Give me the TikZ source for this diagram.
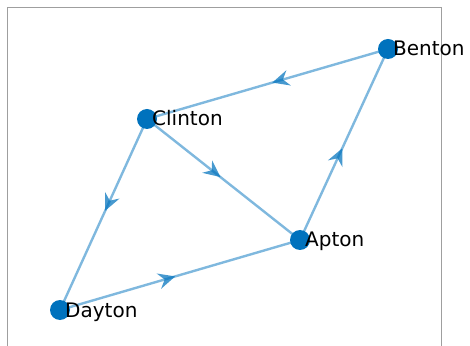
\documentclass[tikz,border=0pt]{standalone}
\usepackage{fontspec}
\setmainfont{DejaVu Sans}
\usetikzlibrary{arrows.meta,positioning,decorations.markings,backgrounds}
\definecolor{nodeblue}{RGB}{0,114,189}
\definecolor{edgeblue}{RGB}{0,114,189}
\tikzset{
	vertex/.style={circle, fill=nodeblue, minimum size=20pt, inner sep=0pt},
	vname/.style={anchor=base west, inner sep=0pt, font=\fontsize{20}{20}\selectfont},
	link/.style={draw=edgeblue, draw opacity=0.5, line width=2.4pt,
		postaction={decorate},
		decoration={markings,
			mark=at position 0.48 with {\fill[edgeblue, fill opacity=0.72] (0pt,0pt) -- (-17pt,8pt) -- (-11pt,0pt) -- (-17pt,-8pt) -- cycle;}}}
}

\begin{document}
\begin{tikzpicture}[x=1pt,y=1pt]
	\useasboundingbox (0,0) rectangle (470,345);
	% axes frame
	\draw[gray!75, line width=0.8pt] (7,-10) -- (7,338) -- (441,338) -- (441,-10);
	
	% draw vertices
	\node[vertex] (benton) at (388,296) {};
	\node[vertex] (clinton) at (147,226) {};
	\node[vertex] (apton) at (300,105) {};
	\node[vertex] (dayton) at (60,35) {};
	
	% vertex names
	\node[vname, xshift=5pt, yshift=-7pt] (bentontxt) at (benton.center) {Benton};
	\node[vname, xshift=5pt, yshift=-7pt] (clintontxt) at (clinton.center) {Clinton};
	\node[vname, xshift=5pt, yshift=-7pt] (aptontxt) at (apton.center) {Apton};
	\node[vname, xshift=5pt, yshift=-7pt] (daytontxt) at (dayton.center) {Dayton};
	
	% Arrows
	\begin{scope}[on background layer]
	\path[link] (benton.center) -- (clinton.center);
	\path[link] (clinton.center) -- (apton.center);
	\path[link] (apton.center) -- (benton.center);
	\path[link] (clinton.center) -- (dayton.center);
	\path[link] (dayton.center) -- (apton.center);
	\end{scope}
\end{tikzpicture}
\end{document}
